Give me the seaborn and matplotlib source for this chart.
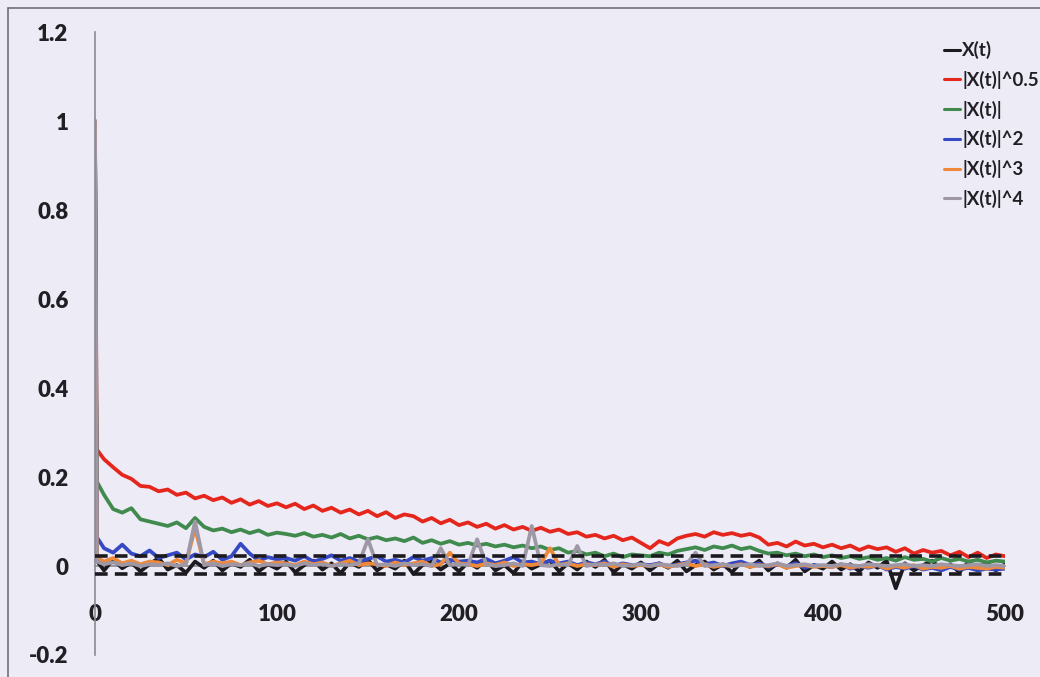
import numpy as np
import pandas as pd
import matplotlib
matplotlib.use("Agg")
import matplotlib.pyplot as plt
from matplotlib.lines import Line2D
import seaborn as sns

# Lags shown (lag 0, lag 1, then every 5 lags)
lags = [0, 1] + list(range(5, 501, 5))

series_names = ['X(t)', '|X(t)|^0.5', '|X(t)|', '|X(t)|^2', '|X(t)|^3', '|X(t)|^4']

acf_x = [1.0, 0.012,
         -0.010, 0.015, -0.005, 0.008, -0.012, 0.004, 0.018, -0.008, 0.002, -0.015,
         0.010, -0.004, 0.012, -0.010, 0.006, -0.002, 0.014, -0.012, 0.004, -0.006,
         0.010, -0.014, 0.002, 0.012, -0.008, 0.006, -0.016, 0.008, -0.002, 0.014,
         -0.010, 0.004, -0.006, 0.012, -0.018, 0.002, 0.010, -0.008, 0.006, -0.012,
         0.008, -0.004, 0.014, -0.010, 0.002, -0.016, 0.010, -0.006, 0.004, 0.012,
         -0.012, 0.006, -0.008, 0.010, -0.002, 0.014, -0.014, 0.004, -0.006, 0.008,
         -0.010, 0.006, -0.004, 0.012, -0.012, 0.002, 0.010, -0.008, 0.004, -0.014,
         0.008, -0.002, 0.012, -0.010, 0.006, -0.004, 0.014, -0.012, 0.002, -0.006,
         0.010, -0.008, 0.004, -0.012, 0.008, -0.004, 0.012, -0.050, 0.006, -0.010,
         0.002, 0.012, -0.008, 0.004, -0.014, 0.010, -0.006, 0.008, -0.010, 0.004]

acf_abs05 = [1.0, 0.262,
             0.240, 0.222, 0.205, 0.196, 0.180, 0.178, 0.168, 0.172, 0.160, 0.165,
             0.152, 0.158, 0.148, 0.154, 0.142, 0.150, 0.138, 0.146, 0.135, 0.141,
             0.132, 0.140, 0.128, 0.136, 0.124, 0.131, 0.120, 0.127, 0.116, 0.124,
             0.112, 0.121, 0.108, 0.116, 0.112, 0.100, 0.108, 0.096, 0.104, 0.092,
             0.098, 0.088, 0.095, 0.084, 0.092, 0.082, 0.088, 0.079, 0.086, 0.077,
             0.082, 0.072, 0.076, 0.066, 0.070, 0.062, 0.068, 0.058, 0.064, 0.052,
             0.040, 0.056, 0.048, 0.062, 0.068, 0.072, 0.066, 0.076, 0.070, 0.074,
             0.068, 0.072, 0.064, 0.048, 0.052, 0.044, 0.055, 0.046, 0.050, 0.042,
             0.048, 0.040, 0.046, 0.036, 0.044, 0.038, 0.042, 0.032, 0.040, 0.028,
             0.036, 0.030, 0.034, 0.024, 0.032, 0.020, 0.030, 0.018, 0.026, 0.022]

acf_abs1 = [1.0, 0.190,
            0.160, 0.128, 0.120, 0.130, 0.105, 0.100, 0.095, 0.090, 0.098, 0.085,
            0.108, 0.088, 0.080, 0.084, 0.076, 0.082, 0.074, 0.080, 0.070, 0.075,
            0.072, 0.068, 0.074, 0.066, 0.070, 0.064, 0.072, 0.062, 0.068, 0.060,
            0.065, 0.058, 0.062, 0.056, 0.064, 0.052, 0.058, 0.050, 0.056, 0.048,
            0.052, 0.046, 0.050, 0.044, 0.048, 0.042, 0.046, 0.040, 0.044, 0.036,
            0.040, 0.030, 0.034, 0.026, 0.030, 0.022, 0.028, 0.020, 0.026, 0.024,
            0.022, 0.030, 0.026, 0.034, 0.038, 0.042, 0.036, 0.044, 0.040, 0.046,
            0.038, 0.042, 0.034, 0.028, 0.030, 0.024, 0.028, 0.022, 0.026, 0.020,
            0.024, 0.018, 0.022, 0.016, 0.020, 0.014, 0.018, 0.012, 0.020, 0.014,
            0.016, 0.010, 0.018, 0.012, 0.016, 0.010, 0.014, 0.008, 0.012, 0.010]

acf_abs2 = [1.0, 0.065,
            0.040, 0.030, 0.048, 0.028, 0.022, 0.035, 0.018, 0.024, 0.030, 0.015,
            0.026, 0.020, 0.032, 0.014, 0.022, 0.050, 0.028, 0.012, 0.020, 0.015,
            0.018, 0.012, 0.022, 0.010, 0.016, 0.024, 0.012, 0.018, 0.010, 0.016,
            0.022, 0.010, 0.014, 0.008, 0.020, 0.012, 0.018, 0.008, 0.014, 0.010,
            0.012, 0.008, 0.016, 0.006, 0.012, 0.020, 0.008, 0.010, 0.004, 0.012,
            0.006, 0.010, 0.002, 0.008, 0.004, 0.010, 0.000, 0.006, 0.002, 0.004,
            0.002, 0.006, -0.002, 0.004, 0.008, 0.012, 0.004, 0.008, 0.000, 0.006,
            0.010, 0.002, 0.006, -0.002, 0.004, 0.000, 0.006, -0.004, 0.002, 0.000,
            -0.002, 0.004, -0.006, 0.000, -0.004, 0.002, -0.008, -0.002, -0.006, 0.000,
            -0.008, -0.004, -0.010, -0.002, -0.008, -0.004, -0.010, -0.006, -0.008, -0.006]

acf_abs3 = [1.0, 0.020,
            0.010, 0.018, 0.006, 0.012, 0.004, 0.010, 0.008, 0.002, 0.014, 0.006,
            0.085, 0.004, 0.010, 0.006, 0.010, 0.002, 0.008, 0.012, 0.004, 0.008,
            0.006, 0.002, 0.010, 0.004, 0.008, 0.000, 0.006, 0.012, 0.002, 0.006,
            0.004, 0.000, 0.008, 0.002, 0.006, 0.010, 0.000, 0.004, 0.030, 0.006,
            0.004, 0.000, 0.006, 0.002, 0.008, 0.000, 0.004, 0.002, 0.006, 0.040,
            0.002, 0.006, 0.000, 0.004, 0.002, 0.006, -0.002, 0.004, 0.000, 0.002,
            0.000, 0.004, -0.002, 0.002, 0.006, 0.000, 0.004, -0.002, 0.002, 0.000,
            0.004, -0.002, 0.002, 0.000, 0.004, -0.004, 0.000, 0.002, -0.002, 0.000,
            -0.002, 0.002, -0.004, 0.000, -0.002, 0.002, -0.006, 0.000, -0.004, 0.002,
            -0.006, -0.002, -0.004, 0.000, -0.006, -0.002, -0.004, -0.006, -0.002, -0.004]

acf_abs4 = [1.0, 0.010,
            0.004, 0.008, 0.002, 0.006, 0.000, 0.004, 0.002, 0.006, 0.000, 0.004,
            0.100, 0.002, 0.006, 0.000, 0.004, 0.002, 0.006, 0.000, 0.004, 0.002,
            0.004, 0.000, 0.006, 0.002, 0.004, 0.000, 0.004, 0.002, 0.006, 0.060,
            0.002, 0.004, 0.000, 0.006, 0.002, 0.004, 0.000, 0.040, 0.002, 0.004,
            0.002, 0.060, 0.004, 0.000, 0.002, 0.006, 0.000, 0.090, 0.002, 0.000,
            0.004, 0.002, 0.045, 0.000, 0.004, 0.002, 0.006, 0.000, 0.002, 0.004,
            0.000, 0.004, 0.002, 0.000, 0.004, 0.030, 0.000, 0.002, 0.004, 0.000,
            0.002, 0.004, 0.000, 0.002, 0.006, 0.000, 0.002, 0.004, 0.000, 0.002,
            0.000, 0.004, 0.002, 0.000, 0.004, 0.002, 0.000, 0.002, 0.004, 0.000,
            0.002, 0.000, 0.004, 0.002, 0.000, 0.002, 0.004, 0.000, 0.002, 0.000]

# confidence bands
conf_upper = 0.022
conf_lower = -0.018

colors = ['#1c1a1f', '#e5261c', '#3f8a4c', '#3549c4', '#f0883a', '#9e97a6']

# build long table for seaborn
all_values = [acf_x, acf_abs05, acf_abs1, acf_abs2, acf_abs3, acf_abs4]
frames = []
for name, vals in zip(series_names, all_values):
    frames.append(pd.DataFrame({'lag': lags, 'acf': vals, 'series': name}))
df = pd.concat(frames, ignore_index=True)

bg = '#ecebf6'
sns.set_style('white')
plt.rcParams['font.family'] = ['Lato', 'DejaVu Sans']
plt.rcParams['font.weight'] = 'bold'

fig = plt.figure(figsize=(10.4, 6.77), dpi=100, facecolor=bg)
ax = fig.add_axes([0.0913, 0.0325, 0.875, 0.920])
ax.set_facecolor(bg)

sns.lineplot(data=df, x='lag', y='acf', hue='series', hue_order=series_names,
             palette=dict(zip(series_names, colors)), estimator=None, sort=False,
             linewidth=2.7, ax=ax)

# dashed bands on top
ax.axhline(conf_upper, color='#1c1a1f', lw=2.6, ls=(0, (3.5, 2)), zorder=5)
ax.axhline(conf_lower, color='#1c1a1f', lw=2.6, ls=(0, (3.5, 2)), zorder=5)

ax.set_xlim(0, 500)
ax.set_ylim(-0.2, 1.2)
ax.set_yticks([-0.2, 0, 0.2, 0.4, 0.6, 0.8, 1.0, 1.2])
ax.set_yticklabels(['-0.2', '0', '0.2', '0.4', '0.6', '0.8', '1', '1.2'])
ax.set_xticks([0, 100, 200, 300, 400, 500])
ax.set_xlabel('')
ax.set_ylabel('')

for s in ['top', 'right']:
    ax.spines[s].set_visible(False)
ax.spines['bottom'].set_position(('data', 0))
ax.spines['bottom'].set_color('#8a8a8f')
ax.spines['left'].set_color('#8a8a8f')
ax.spines['bottom'].set_linewidth(1.2)
ax.spines['left'].set_linewidth(1.2)
ax.spines['bottom'].set_zorder(1)

ax.tick_params(axis='y', direction='out', length=6, width=1.2, color='#8a8a8f',
               pad=13, labelsize=16, labelcolor='#221f24')
ax.tick_params(axis='x', length=0, pad=27, labelsize=16, labelcolor='#221f24')
for lab in ax.get_xticklabels() + ax.get_yticklabels():
    lab.set_fontweight('heavy')

handles = [Line2D([0], [0], color=c, lw=2.2) for c in colors]
if ax.get_legend() is not None:
    ax.get_legend().remove()
leg = fig.legend(handles, series_names, loc='upper left', bbox_to_anchor=(0.899, 0.953),
                 frameon=False, fontsize=13.5, handlelength=0.85, handletextpad=0.1,
                 labelspacing=0.62, borderpad=0, labelcolor='#221f24')

# scan border lines
fig.add_artist(Line2D([0.008, 0.008], [0.0, 0.988], color='#707075', lw=1.2))
fig.add_artist(Line2D([0.008, 1.0], [0.988, 0.988], color='#707075', lw=1.2))

fig.savefig('out.png', dpi=100, facecolor=bg)
